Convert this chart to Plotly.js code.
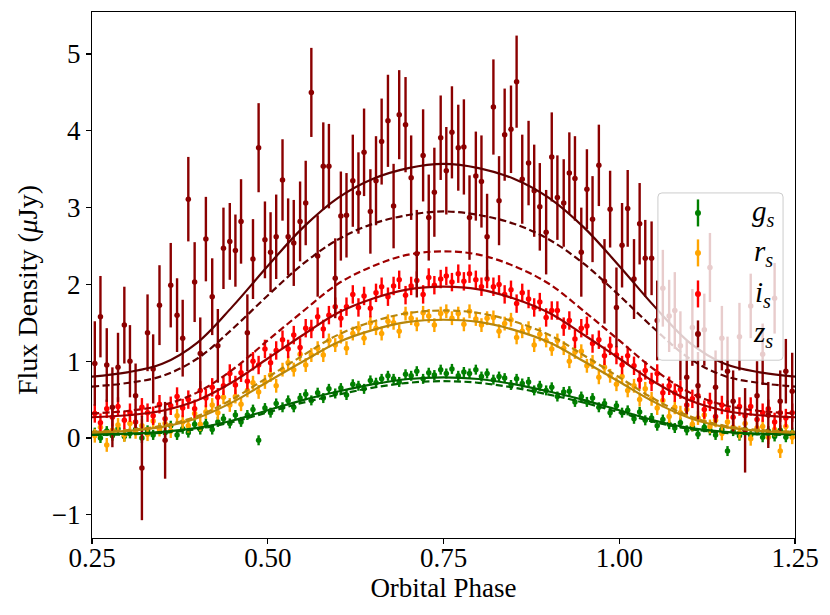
<!DOCTYPE html>
<html>
<head>
<meta charset="utf-8">
<script src="https://cdn.plot.ly/plotly-3.0.1.min.js"></script>
<style>html,body{margin:0;padding:0;background:#fff;}#plot{width:830px;height:615px;}</style>
</head>
<body>
<div id="plot"></div>
<script>
// ---- data ----
const phase = [
0.254,0.262,0.271,0.279,0.287,0.296,0.304,0.312,0.321,0.329,
0.337,0.346,0.354,0.362,0.371,0.379,0.387,0.396,0.404,0.412,
0.421,0.429,0.437,0.446,0.454,0.462,0.471,0.479,0.487,0.496,
0.504,0.512,0.521,0.529,0.537,0.546,0.554,0.562,0.571,0.579,
0.587,0.596,0.604,0.612,0.621,0.629,0.637,0.646,0.654,0.662,
0.671,0.679,0.687,0.696,0.704,0.712,0.721,0.729,0.737,0.746,
0.754,0.762,0.771,0.779,0.787,0.796,0.804,0.812,0.821,0.829,
0.837,0.846,0.854,0.862,0.871,0.879,0.887,0.896,0.904,0.912,
0.921,0.929,0.937,0.946,0.954,0.962,0.971,0.979,0.987,0.996,
1.004,1.012,1.021,1.029,1.037,1.046,1.054,1.062,1.071,1.079,
1.087,1.096,1.104,1.112,1.121,1.129,1.137,1.146,1.154,1.162,
1.171,1.179,1.187,1.196,1.204,1.212,1.221,1.229,1.237,1.246];

const gFlux = [
0.07,0.00,0.09,0.03,0.12,0.02,0.06,0.11,0.00,0.10,
0.04,0.13,0.07,0.16,0.04,0.12,0.07,0.18,0.11,0.19,
0.11,0.21,0.25,0.19,0.30,0.21,0.30,0.37,-0.03,0.39,
0.33,0.45,0.40,0.49,0.40,0.52,0.57,0.49,0.59,0.52,
0.64,0.58,0.65,0.56,0.70,0.68,0.64,0.75,0.72,0.77,
0.81,0.77,0.73,0.83,0.81,0.87,0.77,0.85,0.82,0.89,
0.84,0.90,0.81,0.86,0.84,0.89,0.80,0.84,0.76,0.80,
0.78,0.69,0.77,0.71,0.73,0.62,0.68,0.62,0.66,0.54,
0.60,0.61,0.47,0.54,0.47,0.52,0.40,0.45,0.33,0.42,
0.33,0.36,0.25,0.34,0.23,0.26,0.16,0.24,0.18,0.13,
0.20,0.10,0.15,0.05,0.14,0.10,0.04,0.11,-0.17,0.09,
0.03,0.11,0.04,0.10,0.01,0.09,0.02,0.10,0.01,0.07];

const rFlux = [
0.03,0.14,-0.09,0.10,0.17,0.04,0.19,0.08,0.16,0.05,
0.22,0.11,0.19,0.09,0.29,0.21,0.16,0.32,0.18,0.34,
0.43,0.33,0.53,0.43,0.54,0.44,0.62,0.72,0.60,0.73,
0.82,0.68,0.89,0.98,0.89,1.09,0.95,1.08,1.17,1.08,
1.27,1.21,1.32,1.17,1.36,1.43,1.30,1.50,1.43,1.36,
1.52,1.50,1.39,1.62,1.56,1.48,1.63,1.59,1.47,1.62,
1.65,1.56,1.62,1.48,1.65,1.55,1.47,1.56,1.57,1.39,
1.49,1.54,1.31,1.39,1.43,1.21,1.35,1.27,1.16,1.27,
1.17,1.00,1.12,1.13,0.94,0.99,0.79,0.92,0.81,0.70,
0.80,0.62,0.68,0.50,0.64,0.51,0.39,0.49,0.28,0.40,
0.33,0.37,0.18,0.26,0.30,0.15,0.23,0.06,0.21,0.14,
0.07,0.19,-0.01,0.13,0.15,0.01,0.11,-0.17,0.15,0.01];

const iFlux = [
0.32,0.20,0.38,0.27,0.41,0.23,0.33,0.21,0.40,0.33,
0.29,0.44,0.25,0.42,0.54,0.39,0.50,0.38,0.62,0.52,
0.66,0.53,0.68,0.84,0.69,0.85,0.74,1.00,0.95,1.16,
0.98,1.14,1.28,1.16,1.34,1.18,1.43,1.42,1.58,1.42,
1.60,1.71,1.56,1.71,1.87,1.70,1.85,1.69,1.89,1.97,
1.84,1.98,2.06,1.86,1.98,2.05,1.87,2.09,1.99,2.07,
2.11,2.03,2.14,2.04,2.14,2.06,1.97,2.07,1.97,2.00,
1.87,1.93,1.75,1.89,1.81,1.70,1.77,1.57,1.66,1.66,
1.45,1.53,1.29,1.43,1.46,1.23,1.28,1.07,1.20,1.08,
0.95,1.07,0.94,0.76,0.88,0.73,0.84,0.59,0.68,0.59,
0.63,0.43,0.51,0.55,0.37,0.47,0.28,0.43,0.37,0.27,
0.41,0.29,0.41,0.24,0.33,0.38,0.21,0.33,0.26,0.33];

const zFlux = [
0.97,1.58,0.95,0.40,0.92,1.47,1.00,0.55,-0.39,1.37,
0.90,1.73,-0.03,1.99,1.60,1.30,3.11,2.03,1.10,2.59,
1.84,1.20,2.47,2.56,2.44,2.82,1.37,2.33,3.78,2.58,
2.42,2.62,3.36,2.62,2.54,2.82,3.06,4.50,2.37,3.54,
3.54,2.08,2.89,2.90,3.35,3.19,3.72,2.95,3.35,3.86,
4.13,3.02,4.21,4.08,3.39,2.40,3.68,2.87,3.20,3.91,
3.48,3.98,3.78,3.79,2.87,3.41,3.34,2.62,4.31,3.09,
3.95,4.02,4.64,3.37,3.58,3.22,3.01,2.68,3.66,3.13,
3.06,3.45,3.38,2.42,3.24,2.85,3.55,2.04,2.98,1.70,
2.51,2.99,2.07,2.79,2.34,2.34,1.53,1.95,1.59,1.66,
1.20,0.79,1.44,0.68,1.41,2.22,0.66,1.30,0.87,0.48,
1.32,0.10,1.72,0.55,1.09,0.30,1.82,0.48,0.87,0.61];

const zErr = [
0.55,0.53,0.48,0.52,0.45,0.50,0.47,0.42,0.68,0.50,
0.45,0.52,0.50,0.55,0.48,0.50,0.55,0.52,0.47,0.55,
0.50,0.48,0.53,0.50,0.47,0.55,0.50,0.52,0.58,0.50,
0.52,0.55,0.53,0.50,0.56,0.52,0.55,0.58,0.53,0.57,
0.55,0.52,0.58,0.55,0.60,0.53,0.57,0.55,0.58,0.56,
0.60,0.55,0.58,0.62,0.55,0.57,0.60,0.56,0.58,0.55,
0.57,0.60,0.56,0.62,0.55,0.58,0.60,0.56,0.62,0.58,
0.60,0.57,0.60,0.58,0.55,0.60,0.57,0.55,0.58,0.55,
0.57,0.53,0.55,0.58,0.52,0.56,0.53,0.55,0.50,0.52,
0.55,0.50,0.52,0.53,0.50,0.48,0.52,0.50,0.47,0.50,
0.45,0.48,0.50,0.44,0.47,0.45,0.48,0.42,0.45,0.40,
0.44,0.55,0.42,0.45,0.40,0.43,0.46,0.40,0.42,0.50];
const gErr = 0.065, rErr = 0.09, iErr = 0.12;

// model curves
const modelPhase = [0.25,0.30,0.35,0.40,0.45,0.50,0.55,0.60,0.65,0.70,0.75,0.80,0.85,0.90,0.95,1.00,1.05,1.10,1.15,1.20,1.25];
const zSolid  = [0.80,0.855,0.966,1.243,1.714,2.240,2.739,3.127,3.376,3.515,3.57,3.515,3.376,3.127,2.739,2.240,1.714,1.243,0.966,0.855,0.80];
const zDashed = [0.67,0.716,0.807,1.035,1.422,1.856,2.266,2.585,2.790,2.904,2.95,2.904,2.790,2.585,2.266,1.856,1.422,1.035,0.807,0.716,0.67];
const iDashed = [0.32,0.352,0.426,0.594,0.890,1.270,1.649,2.008,2.240,2.388,2.43,2.388,2.240,2.008,1.649,1.270,0.890,0.594,0.426,0.352,0.32];
const iSolid  = [0.27,0.296,0.355,0.491,0.729,1.035,1.341,1.630,1.817,1.936,1.97,1.936,1.817,1.630,1.341,1.035,0.729,0.491,0.355,0.296,0.27];
const rDashed = [0.08,0.104,0.159,0.285,0.507,0.791,1.075,1.344,1.518,1.628,1.66,1.628,1.518,1.344,1.075,0.791,0.507,0.285,0.159,0.104,0.08];
const rSolid  = [0.07,0.092,0.144,0.261,0.467,0.732,0.996,1.246,1.408,1.511,1.54,1.511,1.408,1.246,0.996,0.732,0.467,0.261,0.144,0.092,0.07];
const gSolid  = [0.05,0.057,0.080,0.131,0.228,0.361,0.494,0.605,0.701,0.768,0.79,0.768,0.701,0.605,0.494,0.361,0.228,0.131,0.080,0.057,0.05];
const gDashed = [0.04,0.047,0.068,0.117,0.208,0.334,0.460,0.565,0.656,0.719,0.74,0.719,0.656,0.565,0.460,0.334,0.208,0.117,0.068,0.047,0.04];

const bandLabels = ['g', 'r', 'i', 'z'];
const pointColors = ['#008000', '#FFA500', '#FF0000', '#8B0000'];
const curveColors = ['#006400', '#B8860B', '#9E0000', '#5E0000'];

// ---- traces ----
function dataTrace(y, errSpec, color) {
  return {
    x: phase, y: y, type: 'scatter', mode: 'markers',
    marker: {color: color, size: 5.5},
    error_y: Object.assign({color: color, thickness: 2.4, width: 0, visible: true}, errSpec),
    showlegend: false, hoverinfo: 'skip'
  };
}
function curveTrace(y, color, dashed) {
  return {
    x: modelPhase, y: y, type: 'scatter', mode: 'lines',
    line: {color: color, width: 2.2, shape: 'spline', smoothing: 1, dash: dashed ? '7px,3.5px' : 'solid'},
    showlegend: false, hoverinfo: 'skip'
  };
}
const traces = [
  dataTrace(gFlux, {type: 'constant', value: gErr}, pointColors[0]),
  dataTrace(rFlux, {type: 'constant', value: rErr}, pointColors[1]),
  dataTrace(iFlux, {type: 'constant', value: iErr}, pointColors[2]),
  dataTrace(zFlux, {type: 'data', array: zErr}, pointColors[3]),
  curveTrace(gSolid, curveColors[0], false),
  curveTrace(gDashed, curveColors[0], true),
  curveTrace(rSolid, curveColors[1], false),
  curveTrace(rDashed, curveColors[1], true),
  curveTrace(iSolid, curveColors[2], false),
  curveTrace(iDashed, curveColors[2], true),
  curveTrace(zSolid, curveColors[3], false),
  curveTrace(zDashed, curveColors[3], true)
];

// ---- custom legend (box, handles, labels) ----
const W = 703, H = 526; // plot area in px
const bx0 = 0.805, bx1 = 0.983, by0 = 0.338, by1 = 0.656;
const rx = 4 / W, ry = 4 / H;
const shapes = [{
  type: 'path', xref: 'paper', yref: 'paper', layer: 'above',
  path: `M ${bx0+rx},${by0} L ${bx1-rx},${by0} Q ${bx1},${by0} ${bx1},${by0+ry} L ${bx1},${by1-ry} Q ${bx1},${by1} ${bx1-rx},${by1} L ${bx0+rx},${by1} Q ${bx0},${by1} ${bx0},${by1-ry} L ${bx0},${by0+ry} Q ${bx0},${by0} ${bx0+rx},${by0} Z`,
  fillcolor: 'rgba(255,255,255,0.8)', line: {color: '#cccccc', width: 1}
}];
const axisFont = {family: 'Liberation Serif, serif', size: 27, color: '#000'};
const annotations = [{
  xref: 'paper', yref: 'paper', x: -0.091, y: 0.4715, xanchor: 'center', yanchor: 'middle',
  textangle: -90, showarrow: false, text: 'Flux Density (<i>μ</i>Jy)',
  font: {family: 'Liberation Serif, serif', size: 28, color: '#000'}
}];
const handleX = 0.862, labelX = 0.955;
const rowY = [0.618, 0.542, 0.464, 0.388];
const half = 13.5 / H, dotR = 3;
bandLabels.forEach((b, k) => {
  const yc = rowY[k];
  shapes.push({type: 'line', xref: 'paper', yref: 'paper', layer: 'above',
    x0: handleX, x1: handleX, y0: yc - half, y1: yc + half,
    line: {color: pointColors[k], width: 2.4}});
  shapes.push({type: 'circle', xref: 'paper', yref: 'paper', layer: 'above',
    x0: handleX - dotR / W, x1: handleX + dotR / W, y0: yc - dotR / H, y1: yc + dotR / H,
    fillcolor: pointColors[k], line: {color: pointColors[k], width: 0}});
  annotations.push({xref: 'paper', yref: 'paper', x: labelX, y: yc, xanchor: 'center', yanchor: 'middle',
    showarrow: false, text: '<i>' + b + '<sub>s</sub></i>',
    font: {family: 'Liberation Serif, serif', size: 29, color: '#000'}});
});

const layout = {
  width: 830, height: 615,
  margin: {l: 92, r: 35, t: 12, b: 77, pad: 0},
  paper_bgcolor: '#fff', plot_bgcolor: '#fff',
  showlegend: false,
  font: axisFont,
  xaxis: {
    range: [0.25, 1.25], tickvals: [0.25, 0.5, 0.75, 1.0, 1.25], tickformat: '.2f',
    showgrid: false, zeroline: false, showline: true, mirror: true, linecolor: '#000', linewidth: 1.2,
    ticks: 'outside', ticklen: 5, tickwidth: 1.1, tickcolor: '#000', tickfont: axisFont,
    ticklabelstandoff: -10,
    title: {text: 'Orbital Phase', font: axisFont, standoff: 2}
  },
  yaxis: {
    range: [-1.302, 5.547], tickvals: [-1, 0, 1, 2, 3, 4, 5],
    showgrid: false, zeroline: false, showline: true, mirror: true, linecolor: '#000', linewidth: 1.2,
    ticks: 'outside', ticklen: 5, tickwidth: 1.1, tickcolor: '#000', tickfont: axisFont
  },
  shapes: shapes,
  annotations: annotations
};
Plotly.newPlot('plot', traces, layout, {staticPlot: true, displayModeBar: false});
</script>
</body>
</html>
